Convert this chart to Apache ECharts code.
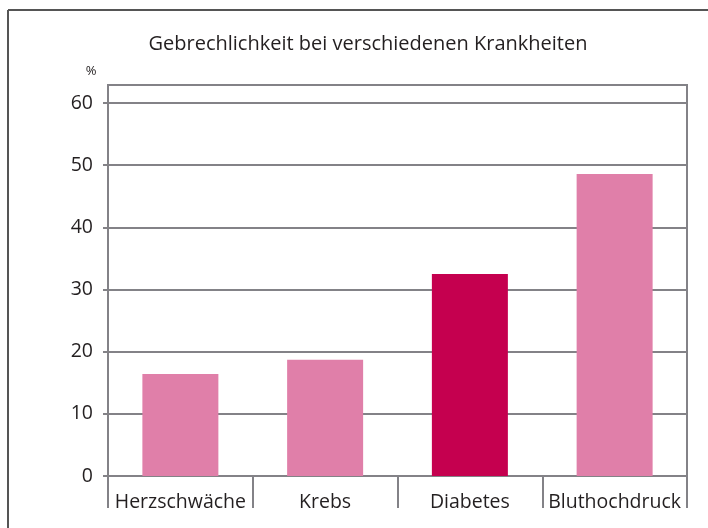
<!DOCTYPE html>
<html>
<head>
<meta charset="utf-8">
<script src="https://cdn.jsdelivr.net/npm/echarts@6/dist/echarts.min.js"></script>
<style>
  html, body { margin: 0; padding: 0; background: #fff; }
  #main { width: 708px; height: 528px; }
</style>
</head>
<body>
<div id="main"></div>
<script>
// Daten
const categories = ['Herzschwäche', 'Krebs', 'Diabetes', 'Bluthochdruck']
const values = [16.4, 18.7, 32.5, 48.6]
const highlighted = [false, false, true, false]
const yTicks = [0, 10, 20, 30, 40, 50, 60]

const gray = '#838287'
const font = 'Open Sans'

const chart = echarts.init(document.getElementById('main'))
const option = {
  animation: false,
  textStyle: { fontFamily: font },
  title: [
    {
      text: 'Gebrechlichkeit bei verschiedenen Krankheiten',
      left: 363,
      top: 29,
      textAlign: 'center',
      textStyle: { fontFamily: font, fontSize: 20, fontWeight: 'normal', color: '#231f20' }
    },
    {
      text: '%',
      left: 86,
      top: 60,
      textAlign: 'center',
      textStyle: { fontFamily: font, fontSize: 13, fontWeight: 'normal', color: '#231f20' }
    }
  ],
  graphic: [
    // Rahmen oben und links
    { type: 'line', shape: { x1: 8, y1: 10, x2: 708, y2: 10 }, style: { stroke: '#555', lineWidth: 2 } },
    { type: 'line', shape: { x1: 8, y1: 10, x2: 8, y2: 528 }, style: { stroke: '#555', lineWidth: 2 } }
  ],
  grid: {
    left: 108,
    right: 21,
    top: 85,
    bottom: 52,
    show: true,
    borderColor: gray,
    borderWidth: 2
  },
  xAxis: {
    type: 'category',
    data: categories,
    boundaryGap: true,
    axisLine: { lineStyle: { color: gray, width: 2 } },
    axisTick: { show: true, interval: 0, length: 32, lineStyle: { color: gray, width: 2 } },
    axisLabel: { interval: 0, margin: 16, fontSize: 19.5, color: '#231f20', fontFamily: font }
  },
  yAxis: {
    type: 'value',
    min: 0,
    max: 62.9,
    interval: 10,
    axisLine: { show: true, lineStyle: { color: gray, width: 2 } },
    axisTick: { show: true, length: 5, customValues: yTicks, lineStyle: { color: gray, width: 2 } },
    axisLabel: { margin: 15, fontSize: 19.5, color: '#231f20', fontFamily: font, customValues: yTicks },
    splitLine: { show: true, lineStyle: { color: gray, width: 2 } }
  },
  series: [
    {
      type: 'bar',
      barWidth: 76,
      data: values.map((v, i) => ({
        value: v,
        itemStyle: { color: highlighted[i] ? '#c5004f' : '#e07fa9' }
      }))
    }
  ]
}
chart.setOption(option)
</script>
</body>
</html>
